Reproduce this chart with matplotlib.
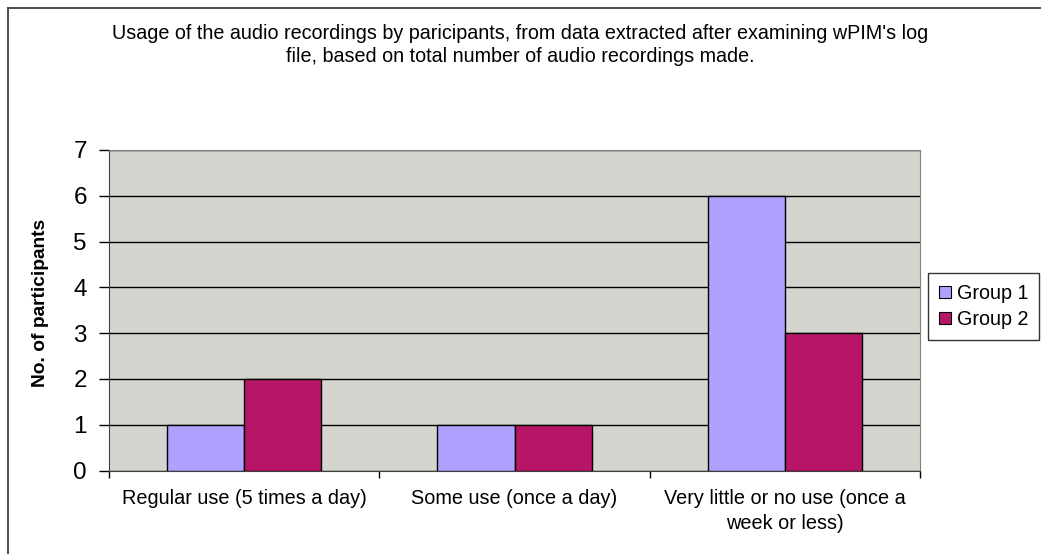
import numpy as np
import matplotlib
matplotlib.use("Agg")
import matplotlib.pyplot as plt
from matplotlib.lines import Line2D

plt.rcParams['font.family'] = ['Liberation Sans', 'DejaVu Sans']

categories = ["Regular use (5 times a day)", "Some use (once a day)",
              "Very little or no use (once a\nweek or less)"]
group1 = [1, 1, 6]
group2 = [2, 1, 3]
series_names = ["Group 1", "Group 2"]
colors = ["#AFA2FF", "#B71568"]
title = ("Usage of the audio recordings by paricipants, from data extracted after examining wPIM's log\n"
         "file, based on total number of audio recordings made.")

fig = plt.figure(figsize=(10.41, 5.54), dpi=100)
ax = fig.add_axes([109 / 1041, 1 - 470.5 / 554, 811 / 1041, 320.5 / 554])
ax.set_facecolor("#D4D5CF")

x = np.arange(len(categories))
w = 1 / 3.5
ax.bar(x - w / 2, group1, w, color=colors[0], edgecolor="black", linewidth=1, label=series_names[0], zorder=3)
ax.bar(x + w / 2, group2, w, color=colors[1], edgecolor="black", linewidth=1, label=series_names[1], zorder=3)

ax.set_xlim(-0.5, len(categories) - 0.5)
ax.set_ylim(0, 7)
ax.set_yticks(range(0, 8))
ax.tick_params(axis='y', labelsize=17.5, length=7, width=1, pad=9, direction='out')
ax.set_xticks(x)
ax.set_xticklabels(categories, fontsize=14.3, linespacing=1.45)
ax.tick_params(axis='x', length=0, pad=13)
ax.set_xticks(np.arange(-0.5, len(categories)), minor=True)
ax.tick_params(axis='x', which='minor', length=5, width=1, direction='out')
ax.yaxis.grid(True, color="black", linewidth=1)
ax.set_axisbelow(True)
for s in ["top", "right"]:
    ax.spines[s].set_color("#808080")
for s in ["left", "bottom"]:
    ax.spines[s].set_color("#404040")

ax.set_ylabel("No. of participants", fontsize=13.8, fontweight="bold")
ax.yaxis.set_label_coords(-0.074, 0.523)

fig.text(0.5, 1 - 45 / 554, title, ha="center", va="center", fontsize=14.2, linespacing=1.25)

leg = fig.legend(loc="upper left", bbox_to_anchor=(928 / 1041, 1 - 273 / 554), fontsize=14.2,
                 frameon=True, fancybox=False, edgecolor="black", handlelength=0.6, handleheight=0.6,
                 handletextpad=0.3, borderpad=0.55, labelspacing=0.35, borderaxespad=0)
leg.get_frame().set_linewidth(1)
for h in leg.legend_handles:
    h.set_linewidth(0.8)

# outer chart border (cropped on right and bottom)
fig.add_artist(Line2D([7.5 / 1041, 7.5 / 1041], [0, 1 - 7.5 / 554], color="#404040", linewidth=1.3))
fig.add_artist(Line2D([7.5 / 1041, 1], [1 - 7.5 / 554, 1 - 7.5 / 554], color="#404040", linewidth=1.3))

fig.savefig("out.png", dpi=100)
